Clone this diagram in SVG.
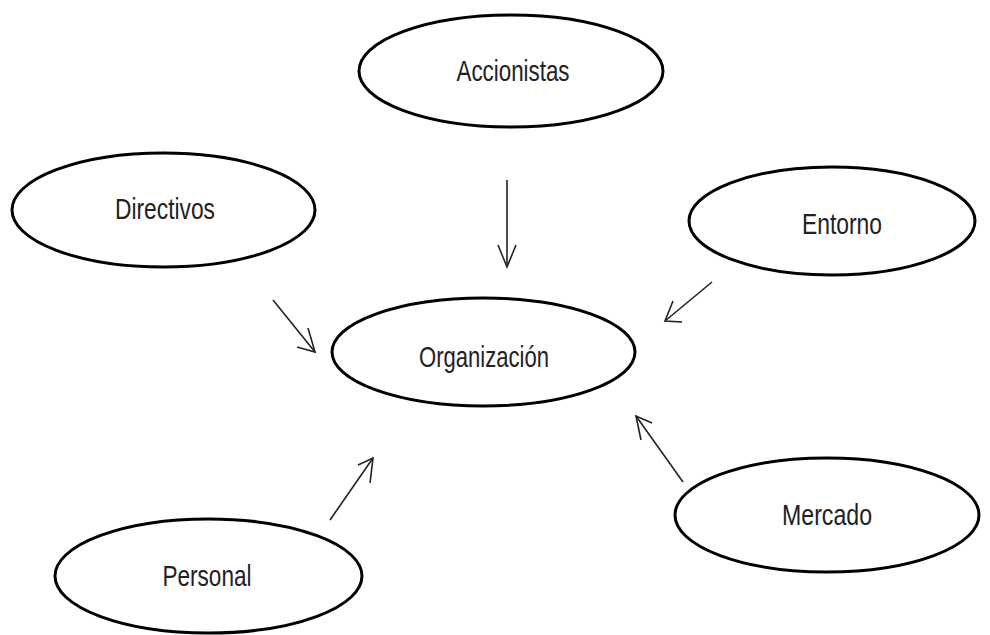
<svg xmlns="http://www.w3.org/2000/svg" width="990" height="635" viewBox="0 0 990 635">
<style>
.node ellipse{fill:#fff;stroke:#000;stroke-width:3}
.node text{font-family:"Liberation Sans",Arial,sans-serif;font-size:30px;fill:#222;text-anchor:middle}
.conn line,.conn polyline{stroke:#222;stroke-width:1.6;fill:none}
</style>
<rect width="990" height="635" fill="#fff"/>
<g id="accionistas" class="node"><ellipse cx="511" cy="71" rx="152" ry="56"/><text x="513" y="81" textLength="113" lengthAdjust="spacingAndGlyphs">Accionistas</text></g>
<g id="directivos" class="node"><ellipse cx="163.5" cy="210" rx="151.5" ry="57"/><text x="165" y="219" textLength="100" lengthAdjust="spacingAndGlyphs">Directivos</text></g>
<g id="entorno" class="node"><ellipse cx="832" cy="221" rx="143" ry="54"/><text x="842" y="234" textLength="80" lengthAdjust="spacingAndGlyphs">Entorno</text></g>
<g id="organizacion" class="node"><ellipse cx="483.5" cy="352" rx="151.5" ry="54"/><text x="484" y="367" textLength="130" lengthAdjust="spacingAndGlyphs">Organización</text></g>
<g id="mercado" class="node"><ellipse cx="827" cy="515" rx="152" ry="57"/><text x="827" y="525" textLength="90" lengthAdjust="spacingAndGlyphs">Mercado</text></g>
<g id="personal" class="node"><ellipse cx="208.5" cy="576" rx="153.5" ry="57"/><text x="207" y="586" textLength="89" lengthAdjust="spacingAndGlyphs">Personal</text></g>
<g id="connectors" class="conn">
<line x1="507" y1="180" x2="507" y2="267"/><polyline points="498,245 507,267 516,245"/>
<line x1="273" y1="300" x2="315" y2="352"/><polyline points="308,328 315,352 297,347"/>
<line x1="712" y1="282" x2="665" y2="321"/><polyline points="673,301 665,321 682,322"/>
<line x1="683" y1="482" x2="636" y2="416"/><polyline points="641,440 636,416 652,423"/>
<line x1="330" y1="520" x2="373" y2="458"/><polyline points="358,465 373,458 370,483"/>
</g>
</svg>
